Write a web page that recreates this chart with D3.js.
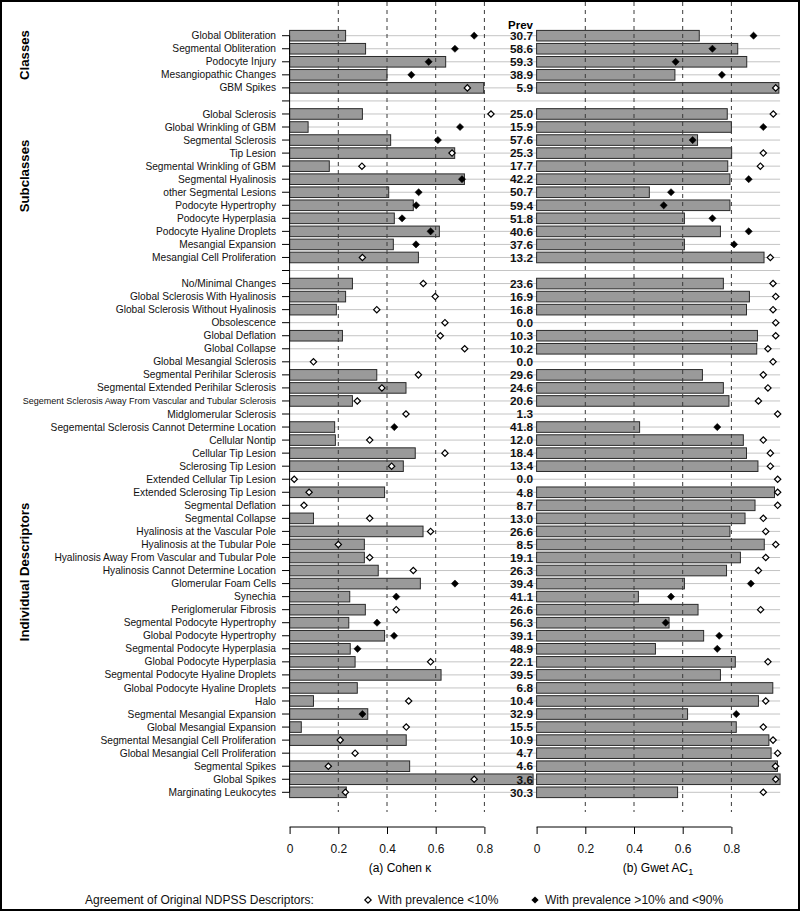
<!DOCTYPE html>
<html><head><meta charset="utf-8">
<script src="https://cdn.jsdelivr.net/npm/d3@7"></script>
<style>body{margin:0;background:#fff}svg{display:block;font-family:"Liberation Sans",Arial,Helvetica,sans-serif}</style>
</head><body><svg id="c" width="800" height="911"></svg>
<script>
const classLabels = ["Global Obliteration","Segmental Obliteration","Podocyte Injury","Mesangiopathic Changes","GBM Spikes"];
const subclassLabels = ["Global Sclerosis","Global Wrinkling of GBM","Segmental Sclerosis","Tip Lesion","Segmental Wrinkling of GBM","Segmental Hyalinosis","other Segmental Lesions","Podocyte Hypertrophy","Podocyte Hyperplasia","Podocyte Hyaline Droplets","Mesangial Expansion","Mesangial Cell Proliferation"];
const descriptorLabels = ["No/Minimal Changes","Global Sclerosis With Hyalinosis","Global Sclerosis Without Hyalinosis","Obsolescence","Global Deflation","Global Collapse","Global Mesangial Sclerosis","Segmental Perihilar Sclerosis","Segmental Extended Perihilar Sclerosis","Segement Sclerosis Away From Vascular and Tubular Sclerosis","Midglomerular Sclerosis","Segemental Sclerosis Cannot Determine Location","Cellular Nontip","Cellular Tip Lesion","Sclerosing Tip Lesion","Extended Cellular Tip Lesion","Extended Sclerosing Tip Lesion","Segmental Deflation","Segmental Collapse","Hyalinosis at the Vascular Pole","Hyalinosis at the Tubular Pole","Hyalinosis Away From Vascular and Tubular Pole","Hyalinosis Cannot Determine Location","Glomerular Foam Cells","Synechia","Periglomerular Fibrosis","Segmental Podocyte Hypertrophy","Global Podocyte Hypertrophy","Segmental Podocyte Hyperplasia","Global Podocyte Hyperplasia","Segmental Podocyte Hyaline Droplets","Global Podocyte Hyaline Droplets","Halo","Segmental Mesangial Expansion","Global Mesangial Expansion","Segmental Mesangial Cell Proliferation","Global Mesangial Cell Proliferation","Segmental Spikes","Global Spikes","Marginating Leukocytes"];

// values in row order: classes, subclasses, descriptors (blank rows not included)
const prevalence = [30.7,58.6,59.3,38.9,5.9,
  25.0,15.9,57.6,25.3,17.7,42.2,50.7,59.4,51.8,40.6,37.6,13.2,
  23.6,16.9,16.8,0.0,10.3,10.2,0.0,29.6,24.6,20.6,1.3,41.8,12.0,18.4,13.4,0.0,4.8,8.7,13.0,26.6,8.5,19.1,26.3,39.4,41.1,26.6,56.3,39.1,48.9,22.1,39.5,6.8,10.4,32.9,15.5,10.9,4.7,4.6,3.6,30.3];
const kappa = [0.230,0.312,0.641,0.400,0.797,
  0.299,0.076,0.415,0.678,0.163,0.718,0.407,0.508,0.430,0.615,0.426,0.529,
  0.258,0.230,0.192,null,0.217,null,null,0.358,0.478,0.258,null,0.185,0.188,0.516,0.467,null,0.390,null,0.098,0.548,0.307,0.307,0.364,0.537,0.247,0.311,0.243,0.390,0.249,0.269,0.622,0.278,0.098,0.321,0.048,0.479,null,0.493,1.0,0.233];
const kappaOriginal = [0.758,0.679,0.571,0.500,0.730,
  0.827,0.700,0.609,0.667,0.297,0.708,0.530,0.520,0.462,0.579,0.519,0.299,
  0.549,0.598,0.358,0.638,0.619,0.719,0.098,0.529,0.379,0.278,0.478,0.430,0.329,0.638,0.419,0.019,0.080,0.059,0.329,0.579,0.200,0.329,0.508,0.679,0.438,0.438,0.359,0.429,0.279,0.579,null,null,0.489,0.299,0.479,0.208,0.269,0.159,0.758,0.229];
const gwet = [0.668,0.826,0.863,0.568,0.995,
  0.783,0.800,0.661,0.801,0.785,0.794,0.463,0.794,0.607,0.755,0.607,0.934,
  0.767,0.874,0.862,null,0.907,0.904,null,0.681,0.767,0.790,null,0.423,0.849,0.862,0.909,null,0.977,0.897,0.856,0.794,0.935,0.837,0.780,0.607,0.418,0.663,0.544,0.686,0.488,0.816,0.755,0.970,0.911,0.620,0.820,0.954,0.963,0.989,1.0,0.579];
const gwetOriginal = [0.891,0.722,0.571,0.761,0.982,
  0.972,0.931,0.641,0.931,0.919,0.871,0.552,0.522,0.722,0.871,0.811,0.960,
  0.971,0.982,0.971,0.982,0.982,0.950,0.971,0.931,0.950,0.911,0.990,0.742,0.931,0.960,0.960,0.990,0.990,0.990,0.931,0.941,0.982,0.941,0.911,0.880,0.552,0.920,0.530,0.750,0.742,0.950,null,null,0.941,0.820,0.931,0.971,0.990,0.981,0.982,0.931];
// "o" = prevalence <10% (open), "f" = prevalence >10% and <90% (filled), "" = none
const originalType = ["f","f","f","f","o",
  "o","f","f","o","o","f","f","f","f","f","f","o",
  "o","o","o","o","o","o","o","o","o","o","o","f","o","o","o","o","o","o","o","o","o","o","o","f","f","o","f","f","f","o","","","o","f","o","o","o","o","o","o"];
const groupNames = ["Classes","Subclasses","Individual Descriptors"];
const xTicks = [0,0.2,0.4,0.6,0.8];
const panelTitles = ["(a) Cohen \u03ba","(b) Gwet  AC"];

// build rows
const rows = [];
let di = 0;
[classLabels, subclassLabels, descriptorLabels].forEach((g, gi) => {
  if (gi > 0) rows.push({key: "blank" + gi, label: "", blank: true});
  g.forEach(l => { rows.push({key: "r" + di, label: l, i: di}); di++; });
});

const svg = d3.select("#c");
const y = d3.scalePoint().domain(rows.map(r => r.key)).range([35.7, 792.3]);
const xK = d3.scaleLinear().domain([0, 1]).range([289.6, 533.1]);
const xG = d3.scaleLinear().domain([0, 1]).range([536.6, 780.1]);
const barH = 10.6;

// frame
svg.append("rect").attr("x", 1).attr("y", 1).attr("width", 798).attr("height", 909)
  .attr("fill", "none").attr("stroke", "#000").attr("stroke-width", 2);

// horizontal gridlines
svg.append("g").selectAll("line").data(rows).join("line")
  .attr("x1", 289.6).attr("x2", 780.1)
  .attr("y1", d => y(d.key)).attr("y2", d => y(d.key))
  .attr("stroke", "#c4c4c4").attr("stroke-width", 1);

// bars
const data = rows.filter(r => !r.blank);
[[xK, kappa], [xG, gwet]].forEach(([sx, vals]) => {
  svg.append("g").selectAll("rect").data(data.filter(d => vals[d.i] != null)).join("rect")
    .attr("x", sx(0)).attr("y", d => y(d.key) - barH / 2)
    .attr("width", d => sx(vals[d.i]) - sx(0)).attr("height", barH)
    .attr("fill", "#9a9a9a").attr("stroke", "#2a2a2a").attr("stroke-width", 1);
});

// dashed vertical reference lines
[xK, xG].forEach(sx => {
  svg.append("g").selectAll("line").data(xTicks.filter(t => t > 0)).join("line")
    .attr("x1", d => sx(d)).attr("x2", d => sx(d)).attr("y1", 2).attr("y2", 812)
    .attr("stroke", "#3a3a3a").attr("stroke-width", 1).attr("stroke-dasharray", "4,4");
});

// diamonds
const sym = d3.symbol().type(d3.symbolSquare);
[[xK, kappaOriginal], [xG, gwetOriginal]].forEach(([sx, vals]) => {
  svg.append("g").selectAll("path").data(data.filter(d => vals[d.i] != null && originalType[d.i])).join("path")
    .attr("d", d => sym.size(originalType[d.i] === "f" ? 26 : 20)())
    .attr("transform", d => `translate(${sx(vals[d.i])},${y(d.key)}) rotate(45)`)
    .attr("fill", d => originalType[d.i] === "f" ? "#000" : "#fff")
    .attr("stroke", "#000").attr("stroke-width", d => originalType[d.i] === "f" ? 0.5 : 1.2);
});

// y axis
const ya = svg.append("g");
ya.append("line").attr("x1", 289.6).attr("x2", 289.6).attr("y1", y.range()[0]).attr("y2", y.range()[1])
  .attr("stroke", "#000");
ya.selectAll("line.t").data(rows).join("line").attr("class", "t")
  .attr("x1", 282).attr("x2", 289.6).attr("y1", d => y(d.key)).attr("y2", d => y(d.key))
  .attr("stroke", "#000");
ya.selectAll("text").data(data).join("text")
  .attr("x", 276).attr("y", d => y(d.key)).attr("dy", "0.35em")
  .attr("text-anchor", "end")
  .attr("font-size", d => d.label.length > 50 ? 9.0 : 10.2)
  .attr("fill", "#111").text(d => d.label);

// prevalence column
svg.append("text").attr("x", 533).attr("y", 28.5).attr("text-anchor", "end")
  .attr("font-weight", "bold").attr("font-size", 11.5).text("Prev");
svg.append("g").selectAll("text").data(data).join("text")
  .attr("x", 533).attr("y", d => y(d.key)).attr("dy", "0.36em").attr("text-anchor", "end")
  .attr("font-weight", "bold").attr("font-size", 11.8).attr("fill", "#111")
  .text(d => prevalence[d.i].toFixed(1));

// group labels
const groupCenters = [55, 176, 572];
groupNames.forEach((g, i) => {
  svg.append("text").attr("transform", `translate(29,${groupCenters[i]}) rotate(-90)`)
    .attr("text-anchor", "middle").attr("font-weight", "bold").attr("font-size", 13.2).text(g);
});

// bottom axes
[xK, xG].forEach((sx, pi) => {
  const g = svg.append("g").attr("transform", "translate(0,827)");
  g.call(d3.axisBottom(sx).tickValues(xTicks).tickSize(7).tickPadding(10)
    .tickFormat(d => d === 0 ? "0" : d3.format(".1f")(d)));
  g.select(".domain").attr("d", `M${sx(0)},0H${sx(0.8)}`).attr("stroke", "#000");
  g.selectAll(".tick line").attr("stroke", "#000");
  g.selectAll("text").attr("font-size", 12).attr("font-family", "Liberation Sans, Arial, sans-serif").attr("fill", "#111");
});
svg.append("text").attr("x", 400).attr("y", 872).attr("text-anchor", "middle").attr("font-size", 12).text(panelTitles[0]);
const t2 = svg.append("text").attr("x", 658).attr("y", 872).attr("text-anchor", "middle").attr("font-size", 12);
t2.append("tspan").text(panelTitles[1]);
t2.append("tspan").attr("font-size", 9).attr("dy", 3).text("1");

// legend
const lg = svg.append("g").attr("font-size", 12).attr("fill", "#111");
lg.append("text").attr("x", 85).attr("y", 904).text("Agreement of Original NDPSS Descriptors:");
lg.append("path").attr("d", sym.size(20)()).attr("transform", "translate(368,900) rotate(45)")
  .attr("fill", "#fff").attr("stroke", "#000").attr("stroke-width", 1.2);
lg.append("text").attr("x", 378).attr("y", 904).text("With prevalence <10%");
lg.append("path").attr("d", sym.size(26)()).attr("transform", "translate(535,900) rotate(45)")
  .attr("fill", "#000");
lg.append("text").attr("x", 545).attr("y", 904).text("With prevalence >10% and <90%");
</script></body></html>
